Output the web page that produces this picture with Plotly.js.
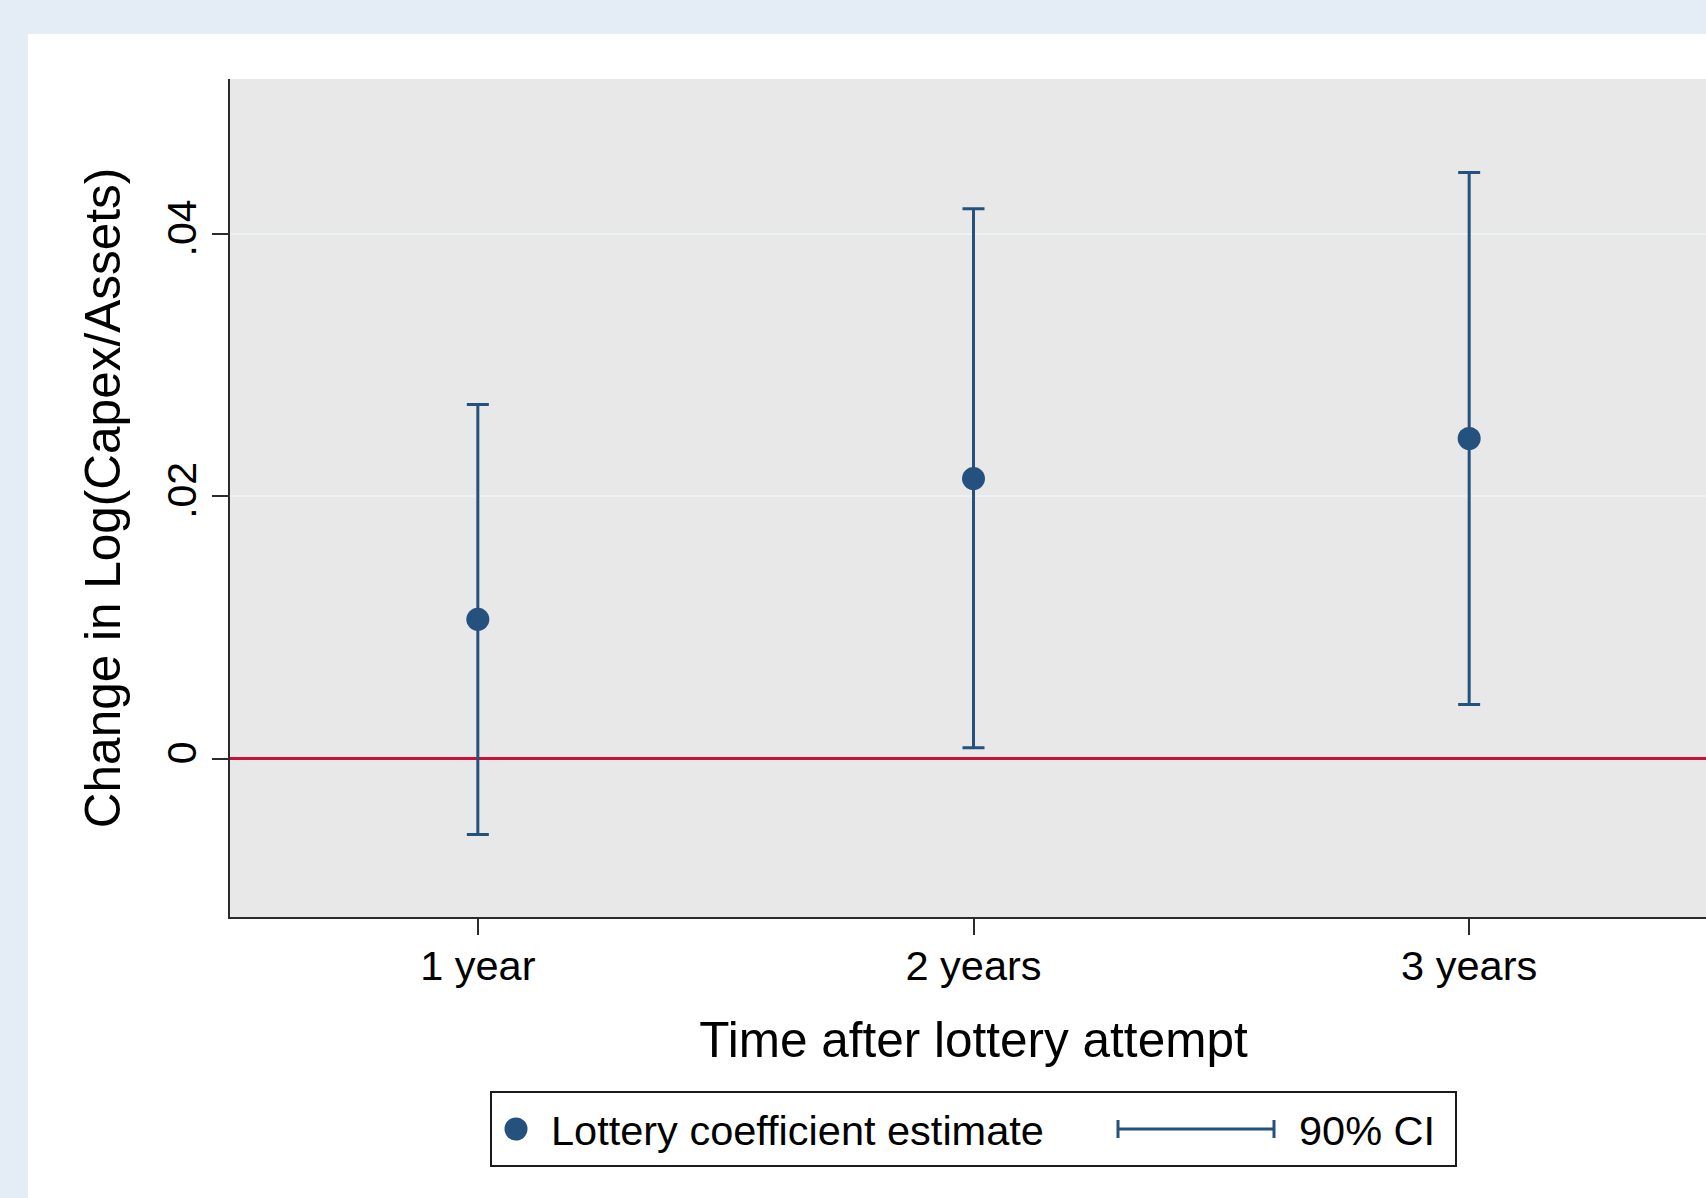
<!DOCTYPE html>
<html>
<head>
<meta charset="utf-8">
<script src="https://cdn.plot.ly/plotly-3.0.1.min.js"></script>
<style>
  html, body { margin: 0; padding: 0; width: 1706px; height: 1198px; overflow: hidden; background: #e4edf6; }
  #panel { position: absolute; left: 28px; top: 34px; width: 1678px; height: 1164px; background: #ffffff; overflow: hidden; }
  #chart { position: absolute; left: 0; top: 0; width: 1760px; height: 1164px; }
</style>
</head>
<body>
<div id="panel"><div id="chart"></div></div>
<script>
// ---- data ----
const categories = ["1 year", "2 years", "3 years"];
const estimate   = [0.01064, 0.02137, 0.02442];
const ciLower    = [-0.00576, 0.00085, 0.00415];
const ciUpper    = [0.02702, 0.04193, 0.04470];
const yTickVals  = [0, 0.02, 0.04];
const yTickText  = ["0", ".02", ".04"];
const legendLabels = ["Lottery coefficient estimate", "90% CI"];

// ---- styling ----
const FONT = '"Liberation Sans", Arial, Helvetica, sans-serif';
const NAVY = '#25517f';
const AXIS = '#2b2b2b';

const errPlus  = ciUpper.map((u, i) => u - estimate[i]);
const errMinus = estimate.map((e, i) => e - ciLower[i]);

const trace = {
  type: 'scatter',
  mode: 'markers',
  x: categories,
  y: estimate,
  marker: { size: 23, color: NAVY },
  error_y: {
    type: 'data', symmetric: false,
    array: errPlus, arrayminus: errMinus,
    color: NAVY, thickness: 3, width: 11
  },
  showlegend: false,
  hoverinfo: 'skip'
};

// plot-area geometry (in px within the chart div)
const M = { l: 202, r: 71, t: 45, b: 281 };
const W = 1760, H = 1164;
const pw = W - M.l - M.r, ph = H - M.t - M.b;
// convert page-pixel positions (legend layout) to paper coordinates
const OX = 28, OY = 34;
const px = v => (v - OX - M.l) / pw;
const py = v => (H - M.b - (v - OY)) / ph;

const legY = 1129;
const shapes = [
  { type: 'rect', xref: 'paper', yref: 'paper',
    x0: px(491), x1: px(1456), y0: py(1166), y1: py(1092),
    line: { color: '#1a1a1a', width: 2 }, fillcolor: '#ffffff', layer: 'above' },
  { type: 'circle', xref: 'paper', yref: 'paper',
    xsizemode: 'pixel', ysizemode: 'pixel',
    xanchor: px(516), yanchor: py(legY),
    x0: -11.5, x1: 11.5, y0: -11.5, y1: 11.5,
    fillcolor: NAVY, line: { width: 0 }, layer: 'above' },
  { type: 'line', xref: 'paper', yref: 'paper',
    x0: px(1118), x1: px(1274), y0: py(legY), y1: py(legY),
    line: { color: NAVY, width: 3 }, layer: 'above' },
  { type: 'line', xref: 'paper', yref: 'paper',
    x0: px(1118), x1: px(1118), y0: py(legY - 9), y1: py(legY + 9),
    line: { color: NAVY, width: 3 }, layer: 'above' },
  { type: 'line', xref: 'paper', yref: 'paper',
    x0: px(1274), x1: px(1274), y0: py(legY - 9), y1: py(legY + 9),
    line: { color: NAVY, width: 3 }, layer: 'above' }
];

const annotations = [
  { xref: 'paper', yref: 'paper', x: px(549), y: py(legY + 1),
    xanchor: 'left', yanchor: 'middle', showarrow: false,
    text: legendLabels[0], font: { family: FONT, size: 41.5, color: '#000' } },
  { xref: 'paper', yref: 'paper', x: px(1297), y: py(legY + 1),
    xanchor: 'left', yanchor: 'middle', showarrow: false,
    text: legendLabels[1], font: { family: FONT, size: 41.5, color: '#000' } }
];

const layout = {
  width: W, height: H,
  margin: M,
  paper_bgcolor: '#ffffff',
  plot_bgcolor: '#e8e8e8',
  font: { family: FONT, color: '#000' },
  showlegend: false,
  xaxis: {
    type: 'category',
    range: [-0.5, 2.5],
    showgrid: false, zeroline: false,
    showline: true, linecolor: AXIS, linewidth: 2,
    ticks: 'outside', ticklen: 16, tickwidth: 2, tickcolor: AXIS,
    ticklabelstandoff: -5,
    tickfont: { family: FONT, size: 41.5, color: '#000' },
    title: { text: 'Time after lottery attempt', font: { family: FONT, size: 49.5, color: '#000' }, standoff: 35 },
    automargin: false, fixedrange: true
  },
  yaxis: {
    range: [-0.01205, 0.05182],
    tickvals: yTickVals, ticktext: yTickText,
    tickangle: -90,
    showgrid: true, gridcolor: '#eaf2f3', gridwidth: 2,
    zeroline: true, zerolinecolor: '#c8103c', zerolinewidth: 3,
    showline: true, linecolor: AXIS, linewidth: 2,
    ticks: 'outside', ticklen: 16, tickwidth: 2, tickcolor: AXIS,
    tickfont: { family: FONT, size: 41, color: '#000' },
    title: { text: 'Change in Log(Capex/Assets)', font: { family: FONT, size: 49.5, color: '#000' }, standoff: 22 },
    automargin: false, fixedrange: true
  },
  shapes: shapes,
  annotations: annotations
};

Plotly.newPlot('chart', [trace], layout, { displayModeBar: false, staticPlot: true, responsive: false });
</script>
</body>
</html>
